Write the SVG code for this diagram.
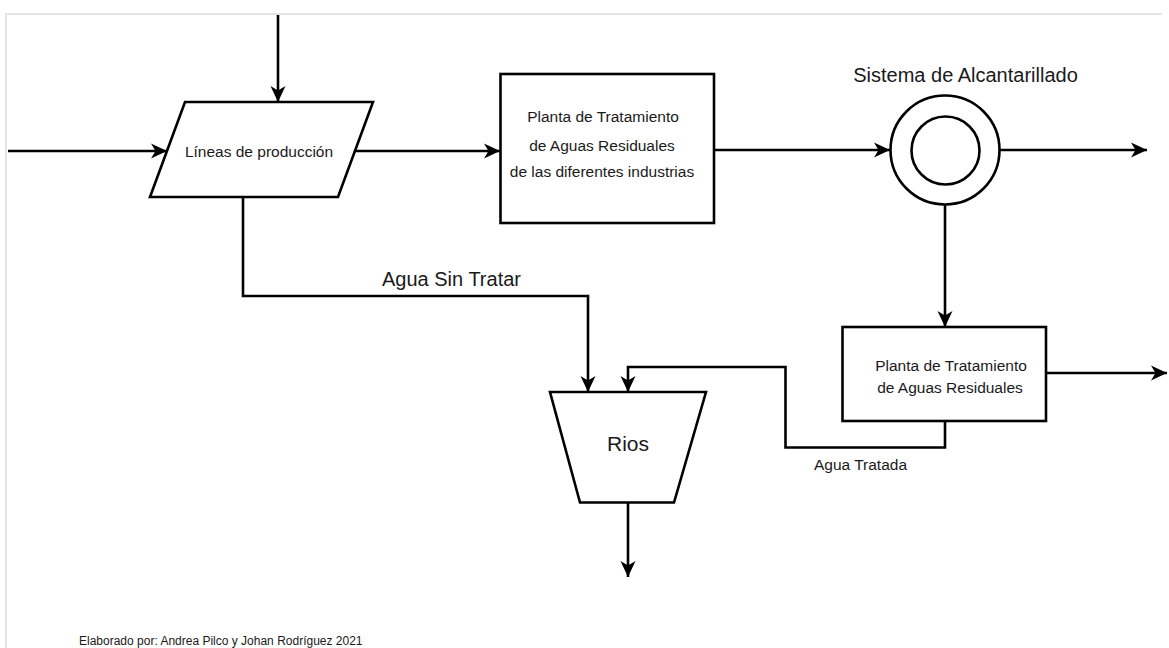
<svg xmlns="http://www.w3.org/2000/svg" width="1169" height="648" viewBox="0 0 1169 648">
<style>
.shape{fill:#fff;stroke:#000;stroke-width:2.6}
.conn{fill:none;stroke:#000;stroke-width:2.6}
.t{font-family:"Liberation Sans",Arial,sans-serif;fill:#1a1a1a;text-anchor:middle}
.s15{font-size:15.5px}
.s20{font-size:20px}
</style>
<defs>
<marker id="arr" markerUnits="userSpaceOnUse" markerWidth="17" markerHeight="17" viewBox="0 0 17 17" refX="16" refY="8.5" orient="auto">
<path d="M0,1 L16,8.5 L0,16 L4.5,8.5 Z" fill="#000"/>
</marker>
</defs>
<rect width="1169" height="648" fill="#fff"/>
<path d="M6,648 V14 H1162" fill="none" stroke="#e4e4e4" stroke-width="2"/>

<g id="connectors">
<line class="conn" x1="278" y1="15" x2="278" y2="102" marker-end="url(#arr)"/>
<line class="conn" x1="8" y1="151" x2="167" y2="151" marker-end="url(#arr)"/>
<line class="conn" x1="355" y1="151" x2="500" y2="151" marker-end="url(#arr)"/>
<polyline class="conn" points="243,197 243,296 588,296 588,392" marker-end="url(#arr)"/>
<line class="conn" x1="714" y1="150" x2="890" y2="150" marker-end="url(#arr)"/>
<line class="conn" x1="999.5" y1="150" x2="1147" y2="150" marker-end="url(#arr)"/>
<line class="conn" x1="945" y1="204.5" x2="945" y2="327" marker-end="url(#arr)"/>
<line class="conn" x1="1046" y1="373" x2="1167" y2="373" marker-end="url(#arr)"/>
<polyline class="conn" points="945,421 945,447.5 785.5,447.5 785.5,367 628,367 628,392" marker-end="url(#arr)"/>
<line class="conn" x1="628" y1="502.5" x2="628" y2="577" marker-end="url(#arr)"/>
<text class="t s20" x="451.5" y="286">Agua Sin Tratar</text>
<text class="t s15" x="860.5" y="470">Agua Tratada</text>
</g>

<g id="lineas">
<polygon class="shape" points="185,102 373,102 338,197 150,197"/>
<text class="t s15" x="259" y="157">Líneas de producción</text>
</g>

<g id="ptar-industrias">
<rect class="shape" x="500.5" y="74" width="213.5" height="149"/>
<text class="t s15" x="603" y="122">Planta de Tratamiento</text>
<text class="t s15" x="602" y="150.5">de Aguas Residuales</text>
<text class="t s15" x="602" y="177">de las diferentes industrias</text>
</g>

<g id="alcantarillado">
<circle class="shape" cx="945" cy="150" r="54.5"/>
<circle class="shape" cx="945.5" cy="150.5" r="34"/>
<text class="t s20" x="965.5" y="82">Sistema de Alcantarillado</text>
</g>

<g id="ptar">
<rect class="shape" x="842.5" y="327" width="203.5" height="94"/>
<text class="t s15" x="951" y="371">Planta de Tratamiento</text>
<text class="t s15" x="950" y="393">de Aguas Residuales</text>
</g>

<g id="rios">
<polygon class="shape" points="550,392 706,392 674,502.5 580,502.5"/>
<text class="t" x="628" y="451" font-size="21">Rios</text>
</g>

<text x="79" y="645" font-family="'Liberation Sans',Arial,sans-serif" font-size="12" fill="#1a1a1a">Elaborado por: Andrea Pilco y Johan Rodríguez 2021</text>
</svg>
